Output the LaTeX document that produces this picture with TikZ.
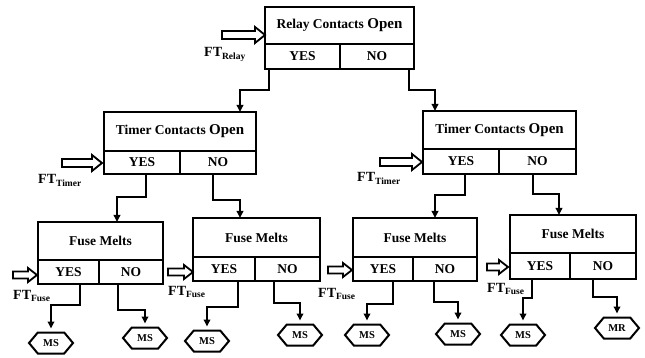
\documentclass[tikz,border=0pt]{standalone}
\usepackage{fontspec}
\setmainfont{Liberation Serif}
\usetikzlibrary{arrows.meta,shapes.symbols}

\tikzset{
  cell/.style={draw, line width=2pt, inner sep=0pt, outer sep=0pt, anchor=north west,
    align=center, font=\fontsize{13.5}{15}\selectfont\bfseries},
  conn/.style={line width=2pt, -{Triangle[length=7pt,width=6.5pt]}},
  hexa/.style={signal, signal to=east and west, signal pointer angle=100, draw,
    line width=2pt, minimum width=44pt, minimum height=21pt, inner sep=0pt, outer sep=0pt,
    font=\fontsize{10.5}{11}\selectfont\bfseries},
  tohex/.style={conn, shorten >=4pt},
  ftlabel/.style={anchor=base west, inner sep=0pt, font=\fontsize{14}{14}\selectfont\bfseries},
  bighollow/.pic={\draw[line width=1.8pt, line join=miter]
    (-#1,-4) -- (-10,-4) -- (-10,-8) -- (0,0) -- (-10,8) -- (-10,4) -- (-#1,4) -- cycle;},
  smallhollow/.pic={\draw[line width=1.8pt, line join=miter]
    (-#1,-3.5) -- (-9,-3.5) -- (-9,-7) -- (0,0) -- (-9,7) -- (-9,3.5) -- (-#1,3.5) -- cycle;}
}

% decision box: name, x, y, width, title height, answer height, YES width, title
\newcommand\decbox[8]{%
  \node[cell, minimum width=#4pt, minimum height=#5pt] (#1) at (#2,#3) {#8};
  \node[cell, minimum width=#7pt, minimum height=#6pt] (#1y) at (#1.south west) {YES};
  \node[cell, minimum width={(#4-#7)*1pt}, minimum height=#6pt] (#1n) at (#1y.north east) {NO};
}
\newcommand\ftsub[1]{\raisebox{-2.5pt}{\fontsize{9.5}{9.5}\selectfont #1}}

\begin{document}
\begin{tikzpicture}[x=1pt,y=-1pt]
\useasboundingbox (0,0) rectangle (645,358);

% decision boxes
\decbox{R}{265}{7}{149}{37}{25}{75}{Relay Contacts {\fontsize{15}{15}\selectfont Open}}
\decbox{TL}{104}{112}{152}{39}{23}{76}{Timer Contacts {\fontsize{15}{15}\selectfont Open}}
\decbox{TR}{423}{111}{153}{38}{25}{76}{Timer Contacts {\fontsize{15}{15}\selectfont Open}}
\decbox{FA}{38}{222}{125}{38}{24}{61}{Fuse Melts}
\decbox{FB}{193}{218}{127}{39}{24}{62}{Fuse Melts}
\decbox{FC}{353}{218}{124}{39}{24}{60}{Fuse Melts}
\decbox{FD}{510}{215}{126}{38}{26}{60}{Fuse Melts}

% end states
\node[hexa] (hA1) at (51,343) {MS};
\node[hexa] (hA2) at (145,338) {MS};
\node[hexa] (hB1) at (207,341) {MS};
\node[hexa] (hB2) at (300,335) {MS};
\node[hexa] (hC1) at (367,335) {MS};
\node[hexa] (hC2) at (458,334) {MS};
\node[hexa] (hD1) at (523,335) {MS};
\node[hexa] (hD2) at (617,328) {MR};

% failure-transition inputs
\pic at (265,35) {bighollow=43};
\pic at (102,163) {bighollow=40};
\pic at (422,162) {bighollow=42};
\pic at (37,275) {smallhollow=24};
\pic at (193,272) {smallhollow=25};
\pic at (352,270) {smallhollow=24};
\pic at (508,267) {smallhollow=21};

\node[ftlabel] (ftR) at (204,57) {FT\ftsub{Relay}};
\node[ftlabel] (ftTL) at (38,184) {FT\ftsub{Timer}};
\node[ftlabel] (ftTR) at (357,182) {FT\ftsub{Timer}};
\node[ftlabel] (ftFA) at (13,299) {FT\ftsub{Fuse}};
\node[ftlabel] (ftFB) at (168,295) {FT\ftsub{Fuse}};
\node[ftlabel] (ftFC) at (318,297) {FT\ftsub{Fuse}};
\node[ftlabel] (ftFD) at (487,292) {FT\ftsub{Fuse}};

% branches
\draw[conn] ([xshift=4pt]Ry.south west) -- ++(0,21) -| ([xshift=136pt]TL.north west);
\draw[conn] ([xshift=-5pt]Rn.south east) -- ++(0,21) -| ([xshift=12pt]TR.north west);
\draw[conn] ([xshift=42pt]TLy.south west) -- ++(0,23) -| ([xshift=79pt]FA.north west);
\draw[conn] ([xshift=33pt]TLn.south west) -- ++(0,26) -| ([xshift=47pt]FB.north west);
\draw[conn] ([xshift=42pt]TRy.south west) -- ++(0,21) -| ([xshift=82pt]FC.north west);
\draw[conn] ([xshift=34pt]TRn.south west) -- ++(0,20) -| ([xshift=49pt]FD.north west);

\draw[tohex] ([xshift=42pt]FAy.south west) -- ++(0,21) -| (hA1.north);
\draw[tohex] ([xshift=19pt]FAn.south west) -- ++(0,26) -| (hA2.north);
\draw[tohex] ([xshift=45pt]FBy.south west) -- ++(0,26) -| (hB1.north);
\draw[tohex] ([xshift=19pt]FBn.south west) -- ++(0,22) -| (hB2.north);
\draw[tohex] ([xshift=40pt]FCy.south west) -- ++(0,23) -| (hC1.north);
\draw[tohex] ([xshift=21pt]FCn.south west) -- ++(0,21) -| (hC2.north);
\draw[tohex] ([xshift=22pt]FDy.south west) -- ++(0,19) -| (hD1.north);
\draw[tohex] ([xshift=23pt]FDn.south west) -- ++(0,18) -| (hD2.north);
\end{tikzpicture}
\end{document}
